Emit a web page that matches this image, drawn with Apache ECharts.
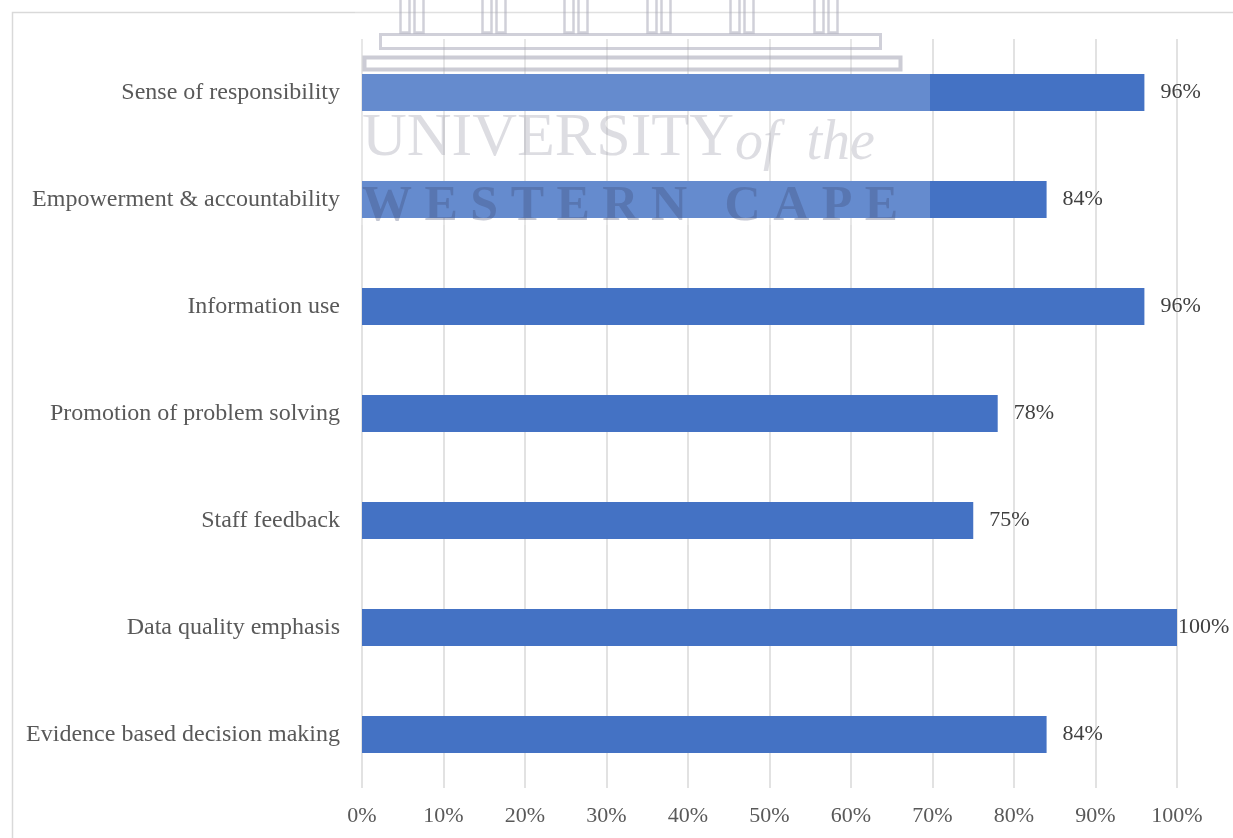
<!DOCTYPE html>
<html>
<head>
<meta charset="utf-8">
<script src="https://cdn.jsdelivr.net/npm/echarts@6/dist/echarts.min.js"></script>
<style>
html,body{margin:0;padding:0;background:#fff;}
#c{width:1233px;height:838px;}
</style>
</head>
<body>
<div id="c"></div>
<script>
// Categories listed top to bottom
var categories = [
  "Sense of responsibility",
  "Empowerment & accountability",
  "Information use",
  "Promotion of problem solving",
  "Staff feedback",
  "Data quality emphasis",
  "Evidence based decision making"
];
var values = [96, 84, 96, 78, 75, 100, 84];
var tickMax = 100;
var tickStep = 10;

var chart = echarts.init(document.getElementById('c'), null, {renderer: 'canvas'});
var FONT = '"Liberation Serif", "Times New Roman", serif';

var seriesData = values.map(function (v) {
  var d = {value: v};
  if (v >= tickMax) d.label = {distance: 1};
  return d;
});

// decorative watermark (building columns)
var columnXs = [398, 480, 562, 645, 728, 812];
var wmGraphics = [];
columnXs.forEach(function (x) {
  [0, 14].forEach(function (dx) {
    wmGraphics.push({
      type: 'rect', left: x + dx, top: -4,
      shape: {width: 9, height: 34},
      style: {fill: 'none', stroke: 'rgba(170,170,185,0.55)', lineWidth: 2.5},
      silent: true, z: 100
    });
  });
});

chart.setOption({
  animation: false,
  backgroundColor: '#ffffff',
  grid: {left: 362, right: 56, top: 39, bottom: 50, containLabel: false},
  xAxis: {
    type: 'value',
    min: 0,
    max: tickMax,
    interval: tickStep,
    axisLine: {show: false},
    axisTick: {show: false},
    splitLine: {show: true, lineStyle: {color: '#d9d9d9', width: 1.5}},
    axisLabel: {
      formatter: '{value}%',
      fontFamily: FONT,
      fontSize: 22,
      color: '#595959',
      margin: 17
    }
  },
  yAxis: {
    type: 'category',
    data: categories,
    inverse: true,
    axisLine: {show: false},
    axisTick: {show: false},
    splitLine: {show: false},
    axisLabel: {
      fontFamily: FONT,
      fontSize: 24,
      color: '#595959',
      margin: 22,
      padding: [4, 0, 0, 0]
    }
  },
  series: [{
    type: 'bar',
    data: seriesData,
    barWidth: 37,
    itemStyle: {color: '#4472C4'},
    label: {
      show: true,
      position: 'right',
      distance: 16,
      formatter: '{c}%',
      fontFamily: FONT,
      fontSize: 22,
      color: '#404040'
    },
    z: 2
  }],
  graphic: [
    {
      type: 'rect',
      left: 10, top: 10,
      shape: {width: 1260, height: 860},
      style: {fill: 'none', stroke: '#d9d9d9', lineWidth: 1.5},
      silent: true, z: 0
    },
    {
      type: 'rect',
      left: 355, top: 0,
      shape: {width: 575, height: 225},
      style: {fill: 'rgba(255,255,255,0.18)'},
      silent: true, z: 100
    },
    {
      type: 'rect',
      left: 362, top: 55,
      shape: {width: 536, height: 12},
      style: {fill: 'none', stroke: 'rgba(170,170,185,0.6)', lineWidth: 4},
      silent: true, z: 100
    },
    {
      type: 'rect',
      left: 378, top: 32,
      shape: {width: 500, height: 14},
      style: {fill: 'none', stroke: 'rgba(170,170,185,0.55)', lineWidth: 3},
      silent: true, z: 100
    }
  ].concat(wmGraphics).concat([
    {
      type: 'text',
      left: 362, top: 108,
      style: {
        text: 'UNIVERSITY',
        font: '62px "Liberation Serif", serif',
        fill: 'rgba(150,150,165,0.32)'
      },
      silent: true, z: 100
    },
    {
      type: 'text',
      left: 735, top: 116,
      style: {
        text: 'of  the',
        font: 'italic 56px "Liberation Serif", serif',
        fill: 'rgba(150,150,165,0.32)'
      },
      silent: true, z: 100
    },
    {
      type: 'text',
      left: 362, top: 182,
      style: {
        text: 'W E S T E R N   C A P E',
        font: 'bold 50px "Liberation Serif", serif',
        fill: 'rgba(60,70,110,0.3)'
      },
      silent: true, z: 100
    }
  ])
});
</script>
</body>
</html>
